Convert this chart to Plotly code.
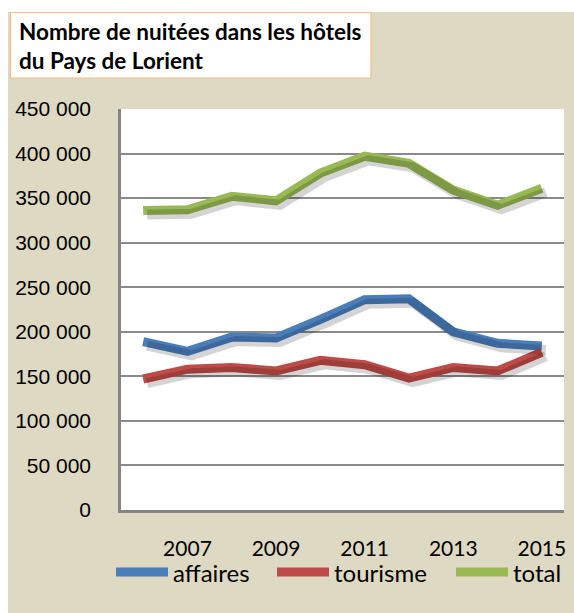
import plotly.graph_objects as go

years = [2006, 2007, 2008, 2009, 2010, 2011, 2012, 2013, 2014, 2015]
affaires = [189000, 178000, 194000, 193000, 214000, 236000, 237000, 200000, 187000, 184000]
tourisme = [147000, 158000, 160000, 156000, 168000, 163000, 148000, 160000, 156000, 177000]
total = [336000, 337000, 352000, 347000, 378000, 397000, 389000, 359000, 342000, 361000]
series_names = ["affaires", "tourisme", "total"]
series_colors = ["#4a7ebb", "#be4b48", "#98b954"]
title_lines = ["Nombre de nuitées dans les hôtels", "du Pays de Lorient"]

W, H = 574, 613
L, R, T, B = 121, 6, 109, 99   # plot area incl. 4px shadow room
SH = 4
PW = W - L - R
PH = H - T - B

def px(x):
    return (x - L) / PW

def py(y):
    return (H - B - y) / PH

fig = go.Figure()
series = [affaires, tourisme, total]
# shadows
for vals in series:
    fig.add_trace(go.Scatter(x=years, y=vals, mode="lines", xaxis="x2", yaxis="y2",
                             line=dict(color="rgba(0,0,0,0.17)", width=10),
                             hoverinfo="skip", showlegend=False))
for name, vals, col in zip(series_names, series, series_colors):
    fig.add_trace(go.Scatter(x=years, y=vals, name=name, mode="lines",
                             line=dict(color=col, width=9), showlegend=False))

xr = [2005.5, 2015.5]
yr = [0, 450000]
fig.update_layout(
    width=W, height=H,
    margin=dict(l=L, r=R, t=T, b=B, pad=0, autoexpand=False),
    paper_bgcolor="white",
    plot_bgcolor="rgba(0,0,0,0)",
    separators=", ",
    showlegend=False,
    xaxis=dict(domain=[0, (PW - SH) / PW], range=xr, tick0=2007, dtick=2,
               showgrid=False, zeroline=False, showline=True, linecolor="#858585",
               linewidth=2.5, ticks="", ticklabelstandoff=18, automargin=False,
               tickfont=dict(family="Lato", size=21, color="black")),
    yaxis=dict(domain=[SH / PH, 1], range=yr, dtick=50000, tickformat=",d",
               showgrid=True, gridcolor="#8a8a8a", gridwidth=1.5,
               zeroline=False, showline=True, linecolor="#858585", linewidth=2.5,
               ticks="", ticklabelstandoff=23, automargin=False,
               tickfont=dict(family="Liberation Sans", size=21, color="black")),
    xaxis2=dict(domain=[SH / PW, 1], range=xr, visible=False, anchor="y2"),
    yaxis2=dict(domain=[0, (PH - SH) / PH], range=yr, visible=False, anchor="x2"),
)

shapes = []
# beige background
shapes.append(dict(type="rect", xref="paper", yref="paper", layer="below",
                   x0=px(8), x1=px(574), y0=py(613), y1=py(12),
                   fillcolor="#ddd9c3", line=dict(width=0)))
# white plot area
shapes.append(dict(type="rect", xref="paper", yref="paper", layer="below",
                   x0=px(121), x1=px(564), y0=py(510), y1=py(109),
                   fillcolor="white", line=dict(width=0)))
# title box
shapes.append(dict(type="rect", xref="paper", yref="paper", layer="above",
                   x0=px(10.5), x1=px(371), y0=py(78), y1=py(12.5),
                   fillcolor="white", line=dict(color="#f6b98a", width=1.2)))
annotations = []
annotations.append(dict(xref="paper", yref="paper", x=px(17), y=py(46), xanchor="left",
                        yanchor="middle", align="left", showarrow=False,
                        text="<b>" + "<br>".join(title_lines) + "</b>",
                        font=dict(family="Lato", size=22.5, color="black")))
# custom legend
leg_x = [112, 273, 452]
for name, col, x0 in zip(series_names, series_colors, leg_x):
    shapes.append(dict(type="line", xref="paper", yref="paper",
                       x0=px(x0 + 4), x1=px(x0 + 56), y0=py(572), y1=py(572),
                       line=dict(color=col, width=9)))
    annotations.append(dict(xref="paper", yref="paper", x=px(x0 + 59), y=py(572),
                            xanchor="left", yanchor="middle", showarrow=False, text=name,
                            font=dict(family="Lato", size=24, color="black")))
fig.update_layout(shapes=shapes, annotations=annotations)

fig.write_html("out.html", config={"displayModeBar": False},
               post_script="document.body.style.margin='0';document.body.style.overflow='hidden';")
